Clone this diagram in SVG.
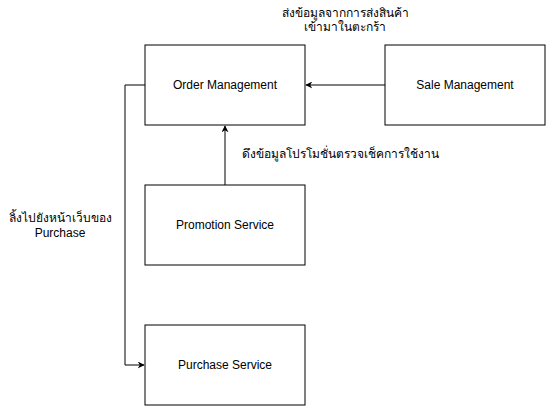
<svg xmlns="http://www.w3.org/2000/svg" width="551" height="411" viewBox="0 0 551 411">
<style>
.box{fill:#fff;stroke:#000;stroke-width:1}
.t{font-family:"Liberation Sans","Noto Sans",sans-serif;font-size:12px;fill:#000;text-anchor:middle}
.e{fill:none;stroke:#000;stroke-width:1}
</style>
<defs>
<marker id="a" viewBox="0 0 10 10" refX="9" refY="5" markerWidth="7" markerHeight="7" orient="auto" markerUnits="userSpaceOnUse">
<path d="M0,0 L10,5 L0,10 L3,5 Z" fill="#000"/>
</marker>
</defs>
<rect width="551" height="411" fill="#fff"/>
<g id="connectors">
<path class="e" d="M385,85 L306,85" marker-end="url(#a)"/>
<path class="e" d="M225,185 L225,126" marker-end="url(#a)"/>
<path class="e" d="M145,85 L125,85 L125,365 L144,365" marker-end="url(#a)"/>
</g>
<g id="order"><rect class="box" x="145" y="45" width="160" height="80"/><text class="t" x="225" y="89">Order Management</text></g>
<g id="sale"><rect class="box" x="385" y="45" width="160" height="80"/><text class="t" x="465" y="89">Sale Management</text></g>
<g id="promotion"><rect class="box" x="145" y="185" width="160" height="80"/><text class="t" x="225" y="229">Promotion Service</text></g>
<g id="purchase"><rect class="box" x="145" y="325" width="160" height="80"/><text class="t" x="225" y="369">Purchase Service</text></g>
<g id="labels">
<text class="t" x="345" y="17">ส่งข้อมูลจากการส่งสินค้า</text>
<text class="t" x="345" y="31">เข้ามาในตะกร้า</text>
<text class="t" x="242" y="158" style="text-anchor:start">ดึงข้อมูลโปรโมชั่นตรวจเช็คการใช้งาน</text>
<text class="t" x="60" y="222">ลิ้งไปยังหน้าเว็บของ</text>
<text class="t" x="60" y="237">Purchase</text>
</g>
</svg>
